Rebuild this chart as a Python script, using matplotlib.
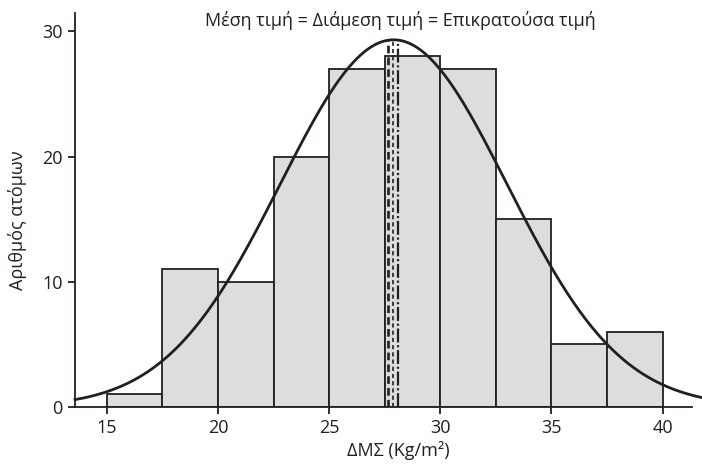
import numpy as np
import matplotlib
matplotlib.use("Agg")
import matplotlib.pyplot as plt

# ---- data ----
bin_edges = [15, 17.5, 20, 22.5, 25, 27.5, 30, 32.5, 35, 37.5, 40]
counts = [1, 11, 10, 20, 27, 28, 27, 15, 5, 6]
x_ticks = [15, 20, 25, 30, 35, 40]
y_ticks = [0, 10, 20, 30]
mean_value = 27.66
median_value = 27.89
mode_value = 28.11
curve_mean = 27.9
curve_sd = 5.1
title_text = "Μέση τιμή = Διάμεση τιμή = Επικρατούσα τιμή"
xlabel_text = "ΔΜΣ (Kg/m²)"
ylabel_text = "Αριθμός ατόμων"

ink = "#231f20"
plt.rcParams['font.family'] = ['Open Sans', 'DejaVu Sans']
plt.rcParams['lines.scale_dashes'] = False

fig = plt.figure(figsize=(7.02, 4.65), dpi=100)
ax = fig.add_axes([75/702, 1-406.7/465, (692-75)/702, (406.7-12.7)/465])

lefts = bin_edges[:-1]
widths = np.diff(bin_edges)
ax.bar(lefts, counts, width=widths, align='edge', color='#dcdddf',
       edgecolor=ink, linewidth=1.3, zorder=2)

# normal curve scaled to counts
n_total = sum(counts)
bw = widths[0]
xs = np.linspace(13.57, 41.8, 400)
ys = n_total * bw / (curve_sd * np.sqrt(2*np.pi)) * np.exp(-0.5*((xs-curve_mean)/curve_sd)**2)
ax.plot(xs, ys, color=ink, lw=2.0, zorder=4, clip_on=False)

top = 29.35
ax.plot([mean_value, mean_value], [0, top], color=ink, lw=1.9,
        linestyle=(0, (5.5, 3)), zorder=5)
ax.plot([median_value, median_value], [0, top], color=ink, lw=1.2,
        linestyle=(0, (3, 2.2)), zorder=5)
ax.plot([mode_value, mode_value], [0, top], color=ink, lw=1.6,
        linestyle=(0, (10, 2, 1.5, 2)), zorder=5)

ax.set_xlim(13.57, 41.32)
ax.set_ylim(0, 31.5)
ax.set_xticks(x_ticks)
ax.set_yticks(y_ticks)
for s in ['top', 'right']:
    ax.spines[s].set_visible(False)
for s in ['left', 'bottom']:
    ax.spines[s].set_color(ink)
    ax.spines[s].set_linewidth(1.3)
ax.tick_params(axis='both', direction='out', length=5, width=1.3,
               color=ink, labelcolor=ink, labelsize=13, pad=4)

ax.set_xlabel(xlabel_text, fontsize=13, color=ink)
ax.xaxis.set_label_coords((398-75)/617, -0.088)
ax.set_ylabel(ylabel_text, fontsize=13, color=ink)
ax.yaxis.set_label_coords(-0.078, (406.7-220)/394)

fig.text(400/702, 1-20/465, title_text, ha='center', va='center',
         fontsize=13, color=ink)

fig.savefig("out.png", dpi=100)
